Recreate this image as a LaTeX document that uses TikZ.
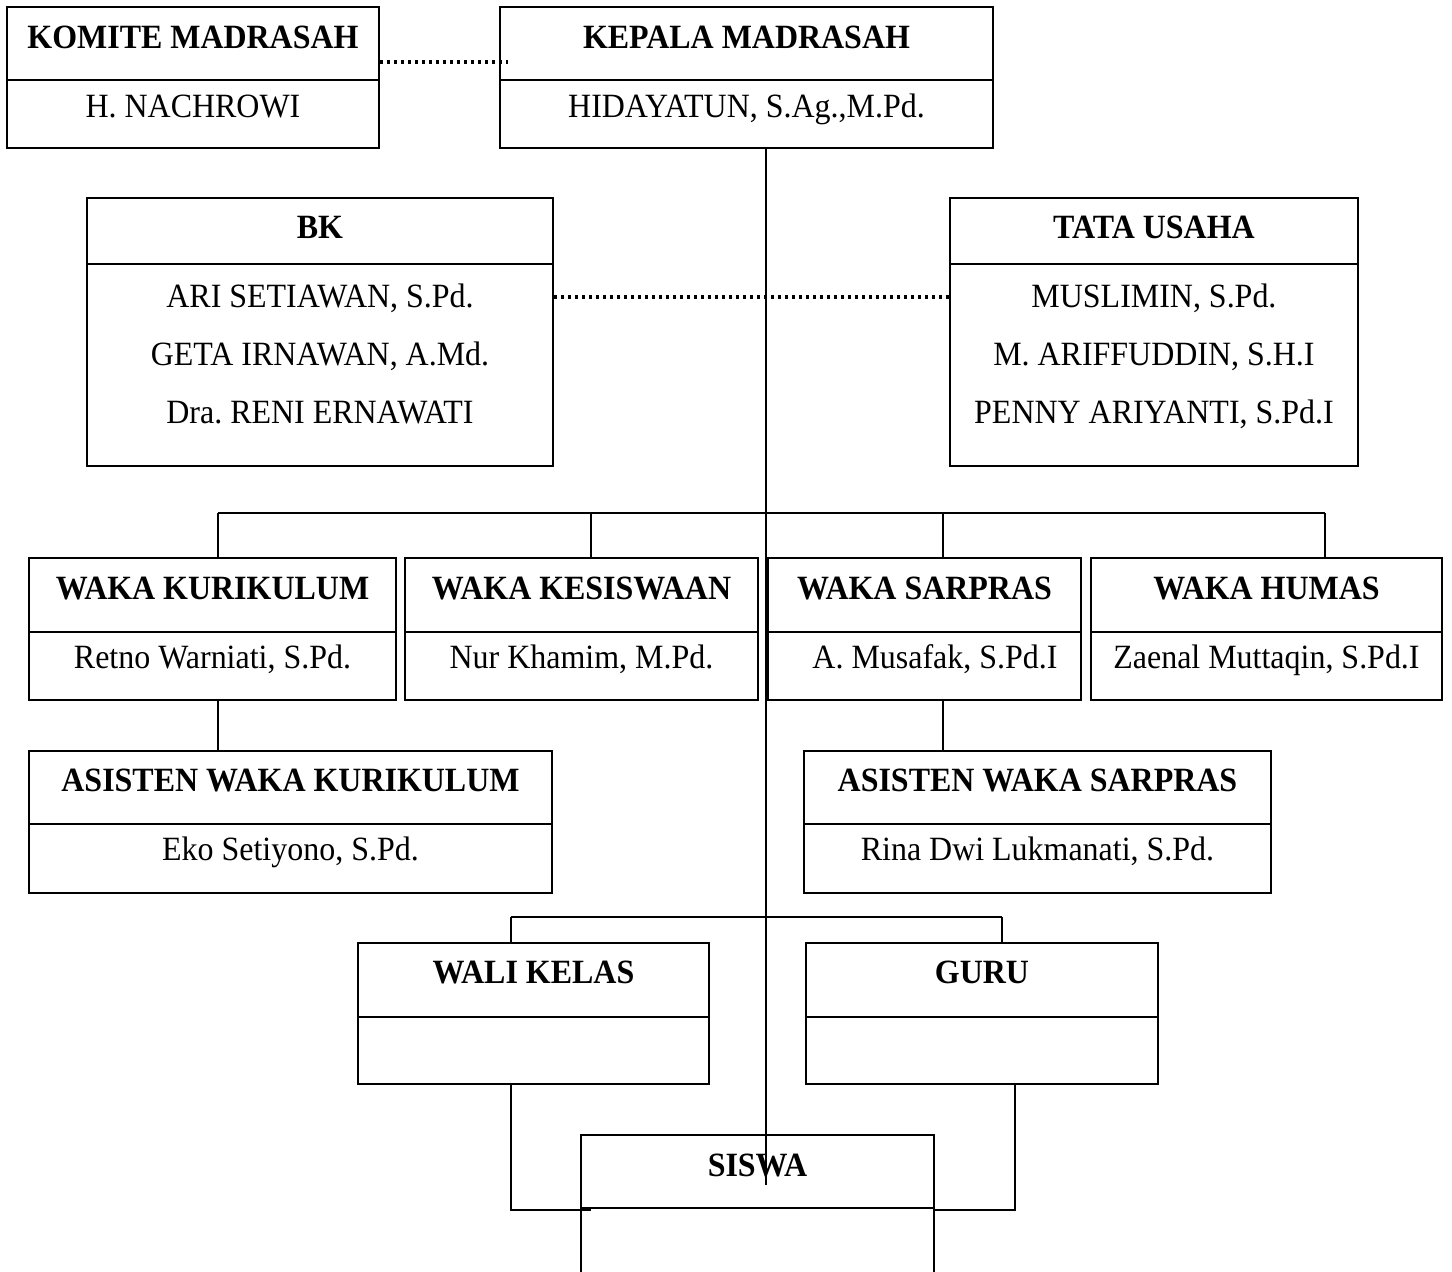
\documentclass[tikz,border=0pt]{standalone}
\usepackage{fontspec}
\setmainfont{Liberation Serif}[FakeStretch=0.94]
\frenchspacing
\tikzset{
  box/.style={draw, line width=1.6pt, inner sep=0pt, rectangle},
  ttl/.style={anchor=base, inner sep=0pt, font=\fontsize{34}{40}\selectfont\bfseries},
  nm/.style={anchor=base, inner sep=0pt, font=\fontsize{34}{40}\selectfont},
  conn/.style={line width=1.6pt},
  dots/.style={line width=3.4pt, dash pattern=on 3.4pt off 3.6pt},
}
\newcommand\OrgBox[6]{%
  \node[box, minimum width={#4pt-#2pt}, minimum height={#5pt-#3pt}] (#1) at ({(#2+#4)/2},{(#3+#5)/2}) {};
  \draw[conn] (#2,#6) -- (#4,#6);
}
\begin{document}
\begin{tikzpicture}[x=1pt,y=-1pt]
\fill[white] (0,0) rectangle (1452,1272);
\clip (0,0) rectangle (1452,1272);
% boxes
\OrgBox{kom}{7}{7}{379}{148}{80}
\OrgBox{kep}{500}{7}{993}{148}{80}
\OrgBox{bk}{87}{198}{553}{466}{264}
\OrgBox{tu}{950}{198}{1358}{466}{264}
\OrgBox{wk}{29}{558}{396}{700}{632}
\OrgBox{wks}{405}{558}{758}{700}{632}
\OrgBox{wsp}{768}{558}{1081}{700}{632}
\OrgBox{wh}{1091}{558}{1442}{700}{632}
\OrgBox{awk}{29}{751}{552}{893}{824}
\OrgBox{aws}{804}{751}{1271}{893}{824}
\OrgBox{wali}{358}{943}{709}{1084}{1017}
\OrgBox{guru}{806}{943}{1158}{1084}{1017}
\OrgBox{sis}{581}{1135}{934}{1300}{1208}
% texts
\node[ttl] (komT) at (193,48) {KOMITE MADRASAH};
\node[nm]  (komN) at (193,117) {H. NACHROWI};
\node[ttl] (kepT) at (746.5,48) {KEPALA MADRASAH};
\node[nm]  (kepN) at (746.5,117) {HIDAYATUN, S.Ag.,M.Pd.};
\node[ttl] (bkT) at (320,238) {BK};
\node[nm]  (bk1) at (320,307) {ARI SETIAWAN, S.Pd.};
\node[nm]  (bk2) at (320,365) {GETA IRNAWAN, A.Md.};
\node[nm]  (bk3) at (320,423) {Dra. RENI ERNAWATI};
\node[ttl] (tuT) at (1154,238) {TATA USAHA};
\node[nm]  (tu1) at (1154,307) {MUSLIMIN, S.Pd.};
\node[nm]  (tu2) at (1154,365) {M. ARIFFUDDIN, S.H.I};
\node[nm]  (tu3) at (1154,423) {PENNY ARIYANTI, S.Pd.I};
\node[ttl] (wkT) at (212.5,599) {WAKA KURIKULUM};
\node[nm]  (wkN) at (212.5,668) {Retno Warniati, S.Pd.};
\node[ttl] (wksT) at (581.5,599) {WAKA KESISWAAN};
\node[nm]  (wksN) at (581.5,668) {Nur Khamim, M.Pd.};
\node[ttl] (wspT) at (924.5,599) {WAKA SARPRAS};
\node[nm]  (wspN) at (935,668) {A. Musafak, S.Pd.I};
\node[ttl] (whT) at (1266.5,599) {WAKA HUMAS};
\node[nm]  (whN) at (1266.5,668) {Zaenal Muttaqin, S.Pd.I};
\node[ttl] (awkT) at (290.5,791) {ASISTEN WAKA KURIKULUM};
\node[nm]  (awkN) at (290.5,860) {Eko Setiyono, S.Pd.};
\node[ttl] (awsT) at (1037.5,791) {ASISTEN WAKA SARPRAS};
\node[nm]  (awsN) at (1037.5,860) {Rina Dwi Lukmanati, S.Pd.};
\node[ttl] (waliT) at (533.5,983) {WALI KELAS};
\node[ttl] (guruT) at (982,983) {GURU};
\node[ttl] (sisT) at (757.5,1176) {SISWA};
% coordinates for connectors
\coordinate (trunk) at (766,1185);
\coordinate (busL) at (218,513);
\coordinate (busR) at (1325,513);
\coordinate (busK) at (591,513);
\coordinate (busS) at (943,513);
\coordinate (bus2L) at (511,917);
\coordinate (bus2R) at (1002,917);
\coordinate (wcor) at (511,1210);
\coordinate (gcor) at (1015,1210);
\coordinate (wend) at (591,1210);
% dotted links
\draw[dots] (kom.east |- 0,62) -- (508,62);
\draw[dots] (bk.east |- 0,297) -- (tu.west |- 0,297);
% trunk
\draw[conn] (kep.south -| trunk) -- (trunk);
% waka bus
\draw[conn] (busL) -- (busR);
\draw[conn] (busL) -- (busL |- wk.north);
\draw[conn] (busK) -- (busK |- wks.north);
\draw[conn] (busS) -- (busS |- wsp.north);
\draw[conn] (busR) -- (busR |- wh.north);
% assistants
\draw[conn] (wk.south -| busL) -- (busL |- awk.north);
\draw[conn] (wsp.south -| busS) -- (busS |- aws.north);
% wali / guru bus
\draw[conn] (bus2L) -- (bus2R);
\draw[conn] (bus2L) -- (bus2L |- wali.north);
\draw[conn] (bus2R) -- (bus2R |- guru.north);
% to siswa
\draw[conn] (wali.south -| wcor) -- (wcor) -- (wend);
\draw[conn] (guru.south -| gcor) -- (gcor) -- (sis.east |- gcor);
\end{tikzpicture}
\end{document}
